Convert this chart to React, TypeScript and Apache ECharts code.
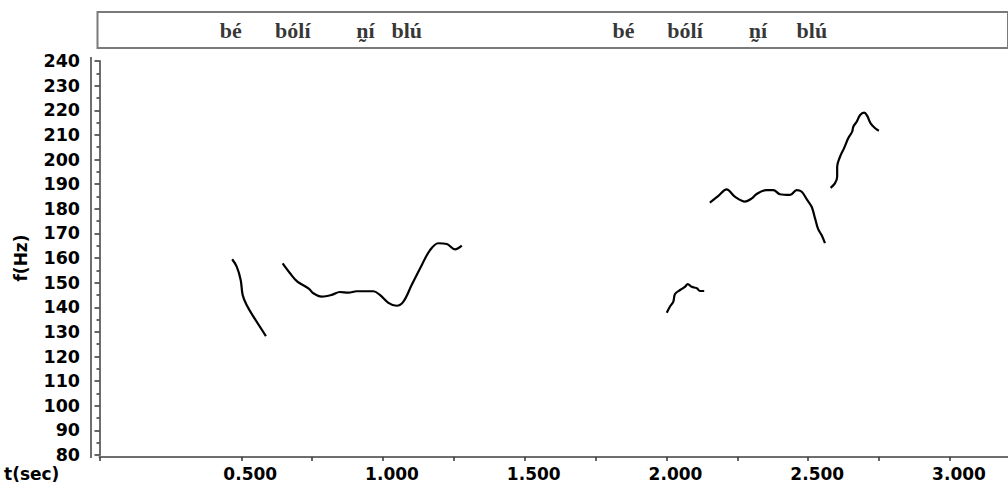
import React, { useEffect, useRef } from "react";
import * as echarts from "echarts";

// Pitch segments: time (s) and frequency (Hz)
const seg1T = [0.468, 0.484, 0.498, 0.505, 0.519, 0.543, 0.587];
const seg1F = [159.5, 156.5, 151.1, 145.0, 140.9, 136.2, 128.3];

const seg2T = [0.646, 0.672, 0.698, 0.737, 0.754, 0.784, 0.819, 0.848, 0.878, 0.907, 0.966, 0.989, 1.019, 1.048, 1.072, 1.101, 1.137, 1.166, 1.195, 1.225, 1.254, 1.278];
const seg2F = [157.8, 153.8, 150.4, 147.7, 145.7, 144.3, 145.0, 146.2, 145.9, 146.5, 146.5, 145.0, 141.8, 140.6, 142.3, 149.0, 157.2, 163.2, 166.0, 165.7, 163.5, 165.0];

const seg3T = [2.001, 2.012, 2.024, 2.030, 2.048, 2.065, 2.075, 2.089, 2.107, 2.118, 2.133];
const seg3F = [137.8, 140.2, 142.3, 145.4, 147.0, 148.3, 149.4, 148.3, 147.7, 146.6, 146.6];

const seg4T = [2.153, 2.183, 2.212, 2.241, 2.277, 2.301, 2.318, 2.353, 2.377, 2.400, 2.436, 2.459, 2.477, 2.495, 2.512, 2.524, 2.535, 2.547, 2.559];
const seg4F = [182.5, 185.2, 187.9, 184.9, 182.9, 184.2, 186.0, 187.6, 187.6, 185.9, 185.6, 187.6, 186.9, 183.8, 180.8, 176.1, 171.7, 169.3, 166.0];

const seg5T = [2.579, 2.594, 2.602, 2.602, 2.612, 2.626, 2.641, 2.655, 2.659, 2.671, 2.683, 2.697, 2.708, 2.720, 2.736, 2.749];
const seg5F = [188.5, 190.3, 193.0, 197.1, 201.1, 204.5, 208.6, 211.3, 213.3, 215.4, 218.1, 219.0, 217.7, 214.7, 212.7, 211.7];

// Syllable annotations (text and centre time in s)
const syllables = ["bé", "bólí", "n̰í", "blú", "bé", "bólí", "n̰í", "blú"];
const syllableTimes = [0.473, 0.697, 0.959, 1.108, 1.889, 2.111, 2.374, 2.568];

// Axis ticks / labels
const xTickValues = [0, 0.5, 0.75, 1.0, 1.25, 1.5, 1.75, 2.0, 2.25, 2.5, 2.75, 3.0];
const xLabelValues = [0.5, 1.0, 1.5, 2.0, 2.5, 3.0];
const yMin = 80;
const yMax = 240;
const yStep = 10;

const segments = [
  [seg1T, seg1F],
  [seg2T, seg2F],
  [seg3T, seg3F],
  [seg4T, seg4F],
  [seg5T, seg5F],
];

const W = 1008;
const H = 485;
const PX_PER_SEC = 283.5;
const PLOT_LEFT = 99.5;
const BOX_LEFT = 97.5;
const BOX_RIGHT = -20;

export default function App() {
  const ref = useRef<HTMLDivElement>(null);

  useEffect(() => {
    if (!ref.current) return;
    const chart = echarts.init(ref.current, null, { renderer: "svg" });

    const xMax = (W - PLOT_LEFT) / PX_PER_SEC;
    const boxWidth = W - BOX_LEFT - BOX_RIGHT;
    const bxMin = (BOX_LEFT - PLOT_LEFT) / PX_PER_SEC;
    const bxMax = bxMin + boxWidth / PX_PER_SEC;

    const sans = "'DejaVu Sans', sans-serif";

    const lineSeries = segments.map(([t, f]) => ({
      type: "line",
      xAxisIndex: 0,
      yAxisIndex: 0,
      data: t.map((v, i) => [v, f[i]]),
      showSymbol: false,
      smooth: 0.35,
      lineStyle: { color: "#000", width: 2.2 },
      silent: true,
    }));

    chart.setOption({
      animation: false,
      backgroundColor: "#fff",
      grid: [
        { left: PLOT_LEFT, right: 0, top: 61, bottom: H - 455 },
        {
          left: BOX_LEFT,
          right: BOX_RIGHT,
          top: 12,
          height: 36,
          show: true,
          borderColor: "#7a7a7a",
          borderWidth: 2,
          backgroundColor: "transparent",
        },
      ],
      xAxis: [
        {
          type: "value",
          gridIndex: 0,
          min: 0,
          max: xMax,
          offset: 2,
          axisLine: { show: true, lineStyle: { color: "#6e6e6e", width: 2 } },
          axisTick: {
            show: true,
            inside: false,
            length: 4,
            customValues: xTickValues,
            lineStyle: { color: "#333", width: 1.5 },
          },
          splitLine: { show: false },
          axisLabel: {
            show: true,
            margin: 8,
            padding: [0, 0, 0, 18],
            color: "#000",
            fontFamily: sans,
            fontWeight: "bold",
            fontSize: 17,
            customValues: xLabelValues,
            formatter: (v: number) => v.toFixed(3),
          },
        },
        {
          type: "value",
          gridIndex: 1,
          min: bxMin,
          max: bxMax,
          show: false,
        },
      ],
      yAxis: [
        {
          type: "value",
          gridIndex: 0,
          min: yMin,
          max: yMax,
          interval: yStep,
          offset: 8.5,
          axisLine: { show: true, lineStyle: { color: "#6e6e6e", width: 2 } },
          axisTick: { show: true, inside: false, length: 5, lineStyle: { color: "#333", width: 1.5 } },
          minorTick: { show: true, splitNumber: 2, length: 3, lineStyle: { color: "#333", width: 1.5 } },
          splitLine: { show: false },
          minorSplitLine: { show: false },
          axisLabel: {
            margin: 11,
            color: "#000",
            fontFamily: sans,
            fontWeight: "bold",
            fontSize: 17.5,
          },
        },
        {
          type: "value",
          gridIndex: 1,
          min: 0,
          max: 1,
          show: false,
        },
      ],
      series: [
        ...lineSeries,
        {
          type: "scatter",
          xAxisIndex: 1,
          yAxisIndex: 1,
          symbolSize: 0,
          silent: true,
          data: syllables.map((s, i) => ({ value: [syllableTimes[i], 0.5], name: s })),
          label: {
            show: true,
            position: "inside",
            formatter: (p: any) => p.name,
            color: "#000",
            fontFamily: "'Liberation Serif', serif",
            fontWeight: "bold",
            fontSize: 22,
          },
        },
      ],
      graphic: [
        {
          type: "line",
          shape: { x1: 91, y1: 57, x2: 91, y2: 458 },
          style: { stroke: "#6e6e6e", lineWidth: 2 },
          silent: true,
        },
        {
          type: "text",
          left: 4,
          top: 465,
          style: {
            text: "t(sec)",
            fill: "#000",
            font: "bold 17px 'DejaVu Sans', sans-serif",
          },
        },
        {
          type: "text",
          x: 21,
          y: 258,
          rotation: Math.PI / 2,
          style: {
            text: "f(Hz)",
            fill: "#000",
            font: "bold 17px 'DejaVu Sans', sans-serif",
            align: "center",
            verticalAlign: "middle",
          },
        },
      ],
    });

    return () => chart.dispose();
  }, []);

  return (
    <div
      ref={ref}
      style={{ position: "fixed", left: 0, top: 0, width: W, height: H, background: "#fff" }}
    />
  );
}
